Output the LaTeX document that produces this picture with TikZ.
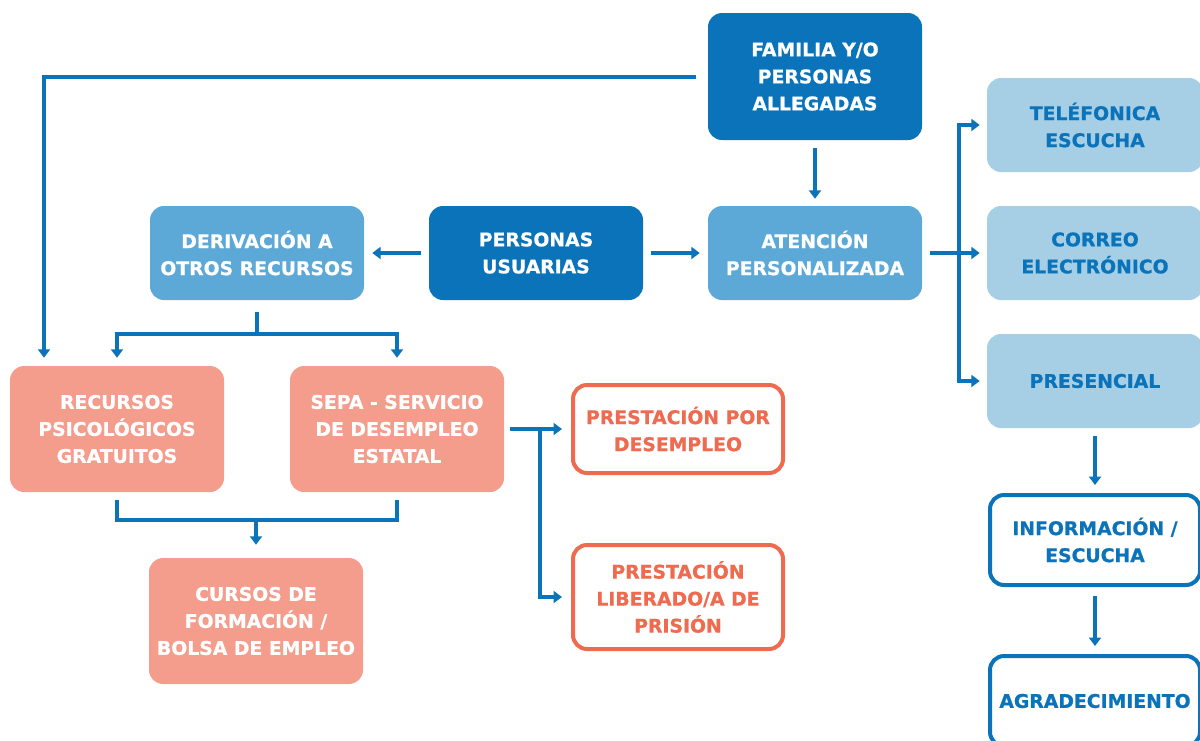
\documentclass[tikz,border=0pt]{standalone}
\usepackage{fontspec}
\setmainfont{DejaVu Sans}[BoldFeatures={FakeBold=0.8}]
\usetikzlibrary{arrows.meta}
\definecolor{dblue}{HTML}{0A73B9}
\definecolor{mblue}{HTML}{5CA8D7}
\definecolor{lblue}{HTML}{A6CFE6}
\definecolor{salmon}{HTML}{F49D8C}
\definecolor{orng}{HTML}{EF6B50}
\begin{document}
\begin{tikzpicture}[x=1pt,y=-1pt,
  box/.style={rounded corners=14pt, minimum width=214pt, minimum height=94pt, align=center,
    font=\bfseries\fontsize{18.8}{27}\selectfont, inner sep=0pt},
  dark/.style={box, fill=dblue, text=white},
  mid/.style={box, fill=mblue, text=white},
  light/.style={box, fill=lblue, text=dblue, minimum width=216pt},
  sal/.style={box, fill=salmon, text=white, minimum height=126pt},
  bout/.style={box, draw=dblue, line width=4pt, fill=white, text=dblue, minimum width=210pt, minimum height=90pt},
  oout/.style={box, draw=orng, line width=4pt, fill=white, text=orng, minimum width=210pt, minimum height=88pt},
  line/.style={draw=dblue, line width=4pt},
  conn/.style={line, -{Triangle[width=12pt,length=8.5pt]}}
]
\useasboundingbox (0,0) rectangle (1200,740);

\node[dark, minimum height=127pt] (fam) at (815,76.5) {FAMILIA Y/O\\PERSONAS\\ALLEGADAS};
\node[mid] (aten) at (815,253) {ATENCIÓN\\PERSONALIZADA};
\node[dark] (pers) at (536,253) {PERSONAS\\USUARIAS};
\node[mid] (deri) at (257,253) {DERIVACIÓN A\\OTROS RECURSOS};
\node[light] (tel) at (1095,125) {TELÉFONICA\\ESCUCHA};
\node[light] (corr) at (1095,253) {CORREO\\ELECTRÓNICO};
\node[light] (pres) at (1095,381) {PRESENCIAL};
\node[bout] (info) at (1095,540) {INFORMACIÓN /\\ESCUCHA};
\node[bout] (agr) at (1095,701) {AGRADECIMIENTO};
\node[sal] (recu) at (117,429) {RECURSOS\\PSICOLÓGICOS\\GRATUITOS};
\node[sal] (sepa) at (397,429) {SEPA - SERVICIO\\DE DESEMPLEO\\ESTATAL};
\node[sal] (curs) at (256,621) {CURSOS DE\\FORMACIÓN /\\BOLSA DE EMPLEO};
\node[oout] (pd) at (678,429) {PRESTACIÓN POR\\DESEMPLEO};
\node[oout, minimum height=104pt] (pl) at (678,597) {PRESTACIÓN\\LIBERADO/A DE\\PRISIÓN};

% connectors
\draw[conn] ([xshift=-12pt]fam.west) -| ([xshift=-73pt,yshift=8pt]recu.north);
\draw[conn] ([yshift=-8pt]fam.south) -- ([yshift=7pt]aten.north);
\draw[conn] ([xshift=8pt]pers.east) -- ([xshift=-8pt]aten.west);
\draw[conn] ([xshift=-8pt]pers.west) -- ([xshift=8pt]deri.east);

\coordinate (hub) at ([xshift=37pt]aten.east);
\draw[conn] ([xshift=8pt]aten.east) -- ([xshift=-7pt]corr.west);
\draw[conn] (hub) |- ([xshift=-7pt]tel.west);
\draw[conn] (hub) |- ([xshift=-7pt]pres.west);
\draw[conn] ([yshift=-8pt]pres.south) -- ([yshift=8pt]info.north);
\draw[conn] ([yshift=-9pt]info.south) -- ([yshift=8pt]agr.north);

\coordinate (dh) at ([yshift=-34pt]deri.south);
\draw[line] ([yshift=-12pt]deri.south) -- (dh);
\draw[conn] (dh) -| ([yshift=8pt]recu.north);
\draw[conn] (dh) -| ([yshift=8pt]sepa.north);

\coordinate (bh) at ([yshift=38pt]curs.north);
\draw[line] ([yshift=-8pt]recu.south) |- (bh) -| ([yshift=-8pt]sepa.south);
\draw[conn] (bh) -- ([yshift=13pt]curs.north);

\coordinate (sh) at ([xshift=36pt]sepa.east);
\draw[conn] ([xshift=6pt]sepa.east) -- ([xshift=-9pt]pd.west);
\draw[conn] (sh) |- ([xshift=-9pt]pl.west);
\end{tikzpicture}
\end{document}
